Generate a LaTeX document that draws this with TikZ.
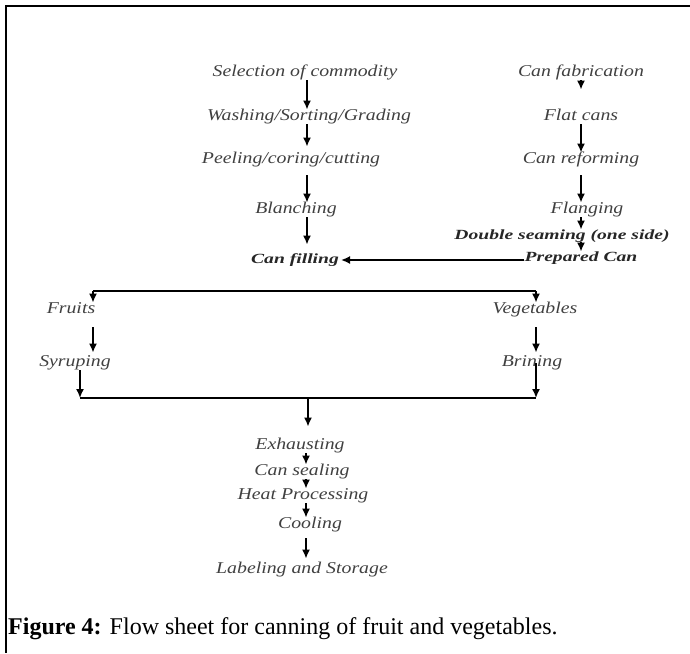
\documentclass[tikz,border=0pt]{standalone}
\usepackage{fontspec}
\setmainfont{Liberation Serif}
\newfontfamily\flowfont{Liberation Serif}[FakeStretch=1.2]
\newfontfamily\flowboldfont{Liberation Serif}[FakeStretch=1.4]
\usepackage{tikz}
\usetikzlibrary{shapes,arrows.meta}

\begin{document}
\begin{tikzpicture}[x=1pt, y=-1pt,
  lbl/.style={font=\flowfont\itshape\fontsize{16.5}{18}\selectfont, text=black!75, inner sep=0pt, text height=11pt, text depth=3.5pt},
  boldlbl/.style={font=\flowboldfont\bfseries\itshape\fontsize{14}{16}\selectfont, text=black!85, inner sep=0pt, text height=9.5pt, text depth=3pt},
  arr/.style={line width=1.6pt, -{Latex[length=9pt,width=8pt]}},
  link/.style={line width=1.3pt}]
  \useasboundingbox (0,0) rectangle (690,653);
  \draw[line width=2pt] (690,6) -- (6,6) -- (6,653);

  \node[lbl] (sel) at (305,73) {Selection of commodity};
  \node[lbl] (wash) at (309,117) {Washing/Sorting/Grading};
  \node[lbl] (peel) at (291,160) {Peeling/coring/cutting};
  \node[lbl] (blanch) at (296,210) {Blanching};
  \node[boldlbl] (fill) at (295,260) {Can filling};

  \node[lbl] (fab) at (581,73) {Can fabrication};
  \node[lbl] (flat) at (581,117) {Flat cans};
  \node[lbl] (reform) at (581,160) {Can reforming};
  \node[lbl] (flang) at (587,210) {Flanging};
  \node[boldlbl] (dbl) at (562,236) {Double seaming (one side)};
  \node[boldlbl] (prep) at (581,258) {Prepared Can};

  \node[lbl] (fruit) at (71,310) {Fruits};
  \node[lbl] (veg) at (535,310) {Vegetables};
  \node[lbl] (syrup) at (75,363) {Syruping};
  \node[lbl] (brine) at (532,363) {Brining};

  \node[lbl] (exh) at (300,446) {Exhausting};
  \node[lbl] (seal) at (302,472) {Can sealing};
  \node[lbl] (heat) at (303,496) {Heat Processing};
  \node[lbl] (cool) at (310,525) {Cooling};
  \node[lbl] (lab) at (302,570) {Labeling and Storage};

  \node[anchor=base west, font=\fontsize{24}{26}\selectfont, inner sep=0pt] (cap) at (8,634) {\textbf{Figure 4:} Flow sheet for canning of fruit and vegetables.};

  \coordinate (colL) at (307,0);
  \coordinate (colR) at (581,0);
  \coordinate (colM) at (306,0);
  \coordinate (fx) at (93,291);
  \coordinate (vx) at (536,291);
  \coordinate (jl) at (80,398);
  \coordinate (jr) at (536,398);
  \coordinate (jm) at (308,398);

  \draw[arr] (sel.south -| colL) -- (wash.north -| colL);
  \draw[arr, shorten >=6pt] (wash.south -| colL) -- (peel.north -| colL);
  \draw[arr, shorten <=8pt] (peel.south -| colL) -- (blanch.north -| colL);
  \draw[arr, shorten >=9pt] (blanch.south -| colL) -- (fill.north -| colL);
  \draw[arr, shorten >=2pt] (fill.east -| prep.west) -- (fill.east);

  \draw[arr, shorten >=20pt] (fab.south -| colR) -- (flat.north -| colR);
  \draw[arr] (flat.south -| colR) -- (reform.north -| colR);
  \draw[arr, shorten <=8pt] (reform.south -| colR) -- (flang.north -| colR);
  \draw[arr] (flang.south -| colR) -- (dbl.north -| colR);
  \draw[arr] (dbl.south -| colR) -- (prep.north -| colR);

  \draw[link] (fx) -- (vx);
  \draw[arr] (fx) -- (fruit.north -| fx);
  \draw[arr] (vx) -- (veg.north -| vx);
  \draw[arr, shorten <=10pt, shorten >=3pt] (fruit.south -| fx) -- (syrup.north -| fx);
  \draw[arr, shorten <=10pt, shorten >=3pt] (veg.south -| vx) -- (brine.north -| vx);
  \draw[arr] (syrup.south -| jl) -- (jl);
  \draw[arr] (brine -| jr) -- (jr);
  \draw[link] (jl) -- (jr);
  \draw[arr, shorten >=12pt] (jm) -- (exh.north -| jm);

  \draw[arr] (exh.south -| colM) -- (seal.north -| colM);
  \draw[arr] (seal.south -| colM) -- (heat.north -| colM);
  \draw[arr] (heat.south -| colM) -- (cool.north -| colM);
  \draw[arr, shorten <=6pt, shorten >=4pt] (cool.south -| colM) -- (lab.north -| colM);
\end{tikzpicture}
\end{document}
